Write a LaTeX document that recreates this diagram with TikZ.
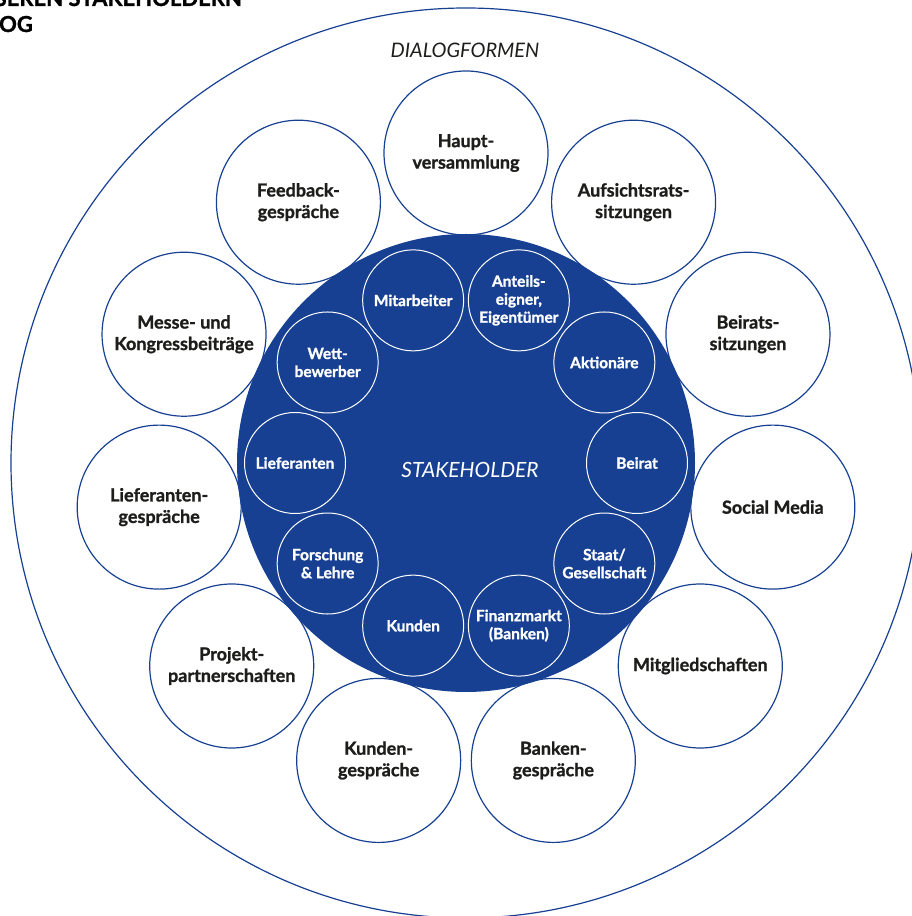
\documentclass[tikz,border=0pt]{standalone}
\usepackage{fontspec}
\setmainfont{Lato}[BoldFeatures={FakeBold=1.2}]
\usetikzlibrary{calc}
\definecolor{brandblue}{RGB}{23,64,146}
\definecolor{ink}{RGB}{29,29,27}
\begin{document}
\begin{tikzpicture}[x=1pt,y=1pt,
  ring/.style={circle, draw=brandblue, line width=1.2pt, minimum size=164pt,
    inner sep=0pt, align=center, text=ink,
    font=\bfseries\fontsize{18}{21.5}\selectfont},
  actor/.style={circle, draw=white, line width=1pt, minimum size=101pt,
    inner sep=0pt, align=center, text=white,
    font=\bfseries\fontsize{15.5}{18}\selectfont},
  heading/.style={inner sep=0pt, text=black, font=\bfseries\fontsize{22}{26}\selectfont},
]
\useasboundingbox (0,0) rectangle (912,916);
\clip (0,0) rectangle (912,916);

\coordinate (C) at (466,453);

% title, running off the page edge
\node[heading, anchor=base east] (title1) at (242,910) {MIT UNSEREN STAKEHOLDERN};
\node[heading, anchor=base east] (title2) at (33,884) {IM DIALOG};

% outer frame of dialogue formats
\draw[brandblue, line width=1.2pt] (C) circle[radius=455];
\node[text=ink, font=\itshape\fontsize{20}{22}\selectfont, inner sep=0pt] (dlabel) at (465,866) {DIALOGFORMEN};

% stakeholder disc
\fill[brandblue] (C) circle[radius=229];
\node[text=white, font=\itshape\fontsize{21}{24}\selectfont, inner sep=0pt] (slabel) at (470,446) {STAKEHOLDER};

% dialogue formats
\foreach \txt [count=\k from 0] in {
    {Haupt-\\versammlung},
    {Aufsichtsrats-\\sitzungen},
    {Beirats-\\sitzungen},
    {Social Media},
    {Mitgliedschaften},
    {Banken-\\gespräche},
    {Kunden-\\gespräche},
    {Projekt-\\partnerschaften},
    {Lieferanten-\\gespräche},
    {Messe- und\\Kongressbeiträge},
    {Feedback-\\gespräche}}
{
  \pgfmathsetmacro{\ang}{90-\k*360/11}
  \node[ring] (o\k) at ($(C)+(\ang:310)$) {\txt};
}

% stakeholder groups
\foreach \txt [count=\k from 0] in {
    {Beirat},
    {Aktionäre},
    {Anteils-\\eigner,\\Eigentümer},
    {Mitarbeiter},
    {Wett-\\bewerber},
    {Lieferanten},
    {Forschung\\\& Lehre},
    {Kunden},
    {Finanzmarkt\\(Banken)},
    {Staat/\\Gesellschaft}}
{
  \pgfmathsetmacro{\ang}{\k*36}
  \node[actor] (i\k) at ($(C)+(\ang:171)$) {\txt};
}
\end{tikzpicture}
\end{document}
